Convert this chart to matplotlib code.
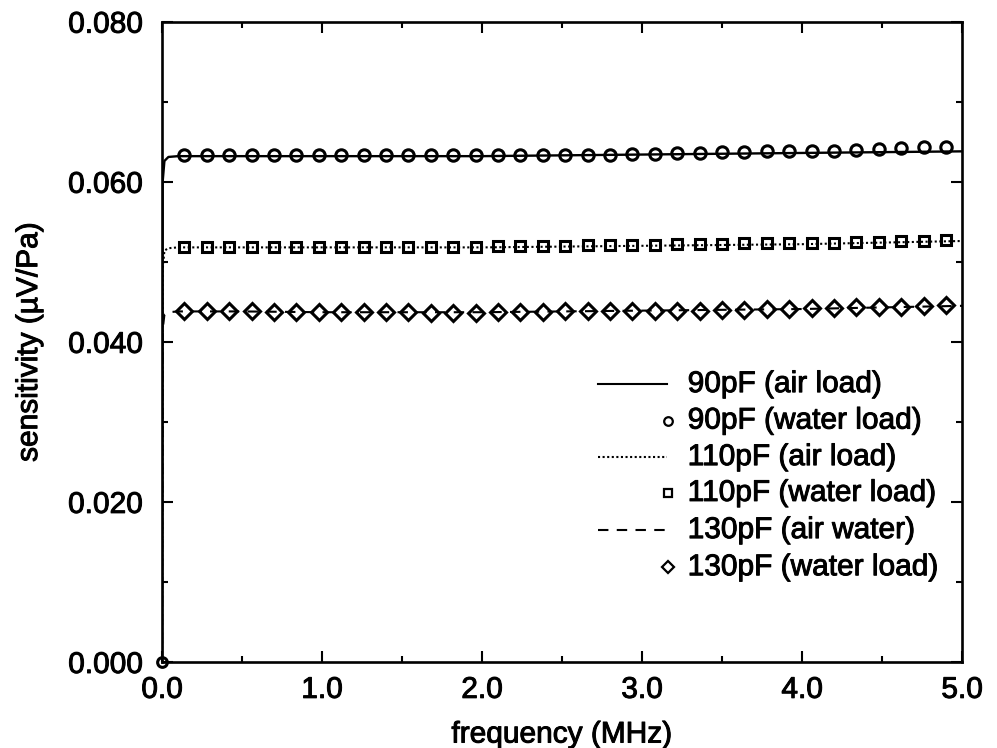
import matplotlib
matplotlib.use("Agg")
import matplotlib.pyplot as plt
import matplotlib.patheffects as pe
from matplotlib.lines import Line2D
from matplotlib.ticker import MultipleLocator, FormatStrFormatter

plt.rcParams["font.family"] = ["Liberation Sans", "DejaVu Sans"]
plt.rcParams["font.size"] = 21.5

# air-load curves (calculated, continuous)
freq_air = [0.0, 0.004, 0.015, 0.04, 0.1, 0.5, 1.0, 1.5, 2.0, 2.5, 3.0, 3.5, 4.0, 4.5, 5.0]
air_90 = [0.0, 0.0600, 0.0626, 0.0631, 0.0632, 0.0632, 0.0632, 0.0632, 0.0632,
          0.0633, 0.0634, 0.0635, 0.0636, 0.0637, 0.0638]
air_110 = [0.0, 0.0490, 0.0514, 0.0517, 0.0518, 0.0518, 0.0518, 0.0518, 0.0518,
           0.0519, 0.0520, 0.0521, 0.0522, 0.0524, 0.0526]
air_130 = [0.0, 0.0415, 0.0434, 0.0437, 0.0438, 0.0438, 0.0437, 0.0437, 0.0437,
           0.0438, 0.0439, 0.0440, 0.0441, 0.0443, 0.0445]

# water-load points
freq_water = [0.14, 0.28, 0.42, 0.56, 0.70, 0.84, 0.98, 1.12, 1.26, 1.40, 1.54, 1.68,
              1.82, 1.96, 2.10, 2.24, 2.38, 2.52, 2.66, 2.80, 2.94, 3.08, 3.22, 3.36,
              3.50, 3.64, 3.78, 3.92, 4.06, 4.20, 4.34, 4.48, 4.62, 4.76, 4.90]
water_90 = [0.0634, 0.0634, 0.0634, 0.0633, 0.0633, 0.0633, 0.0633, 0.0633, 0.0633,
            0.0633, 0.0633, 0.0633, 0.0633, 0.0634, 0.0634, 0.0634, 0.0634, 0.0634,
            0.0634, 0.0634, 0.0635, 0.0635, 0.0636, 0.0636, 0.0637, 0.0637, 0.0638,
            0.0638, 0.0639, 0.0639, 0.0640, 0.0641, 0.0642, 0.0643, 0.0644]
water_110 = [0.0519, 0.0519, 0.0519, 0.0519, 0.0519, 0.0519, 0.0519, 0.0519, 0.0519,
             0.0519, 0.0519, 0.0519, 0.0519, 0.0519, 0.0520, 0.0520, 0.0520, 0.0520,
             0.0521, 0.0521, 0.0521, 0.0521, 0.0522, 0.0522, 0.0522, 0.0523, 0.0523,
             0.0523, 0.0524, 0.0524, 0.0525, 0.0525, 0.0526, 0.0526, 0.0527]
water_130 = [0.0438, 0.0438, 0.0438, 0.0438, 0.0437, 0.0437, 0.0437, 0.0437, 0.0437,
             0.0437, 0.0437, 0.0436, 0.0436, 0.0436, 0.0437, 0.0437, 0.0437, 0.0438,
             0.0438, 0.0438, 0.0438, 0.0439, 0.0439, 0.0439, 0.0440, 0.0440, 0.0441,
             0.0441, 0.0442, 0.0442, 0.0443, 0.0444, 0.0444, 0.0445, 0.0446]
origin_f = [0.0]
origin_s = [0.0]

labels = ["90pF (air load)", "90pF (water load)", "110pF (air load)",
          "110pF (water load)", "130pF (air water)", "130pF (water load)"]

fig = plt.figure(figsize=(9.97, 7.48), dpi=100)
ax = fig.add_axes([0.1625, 0.115, 0.8025, 0.856])

# slightly heavier glyphs, like an old laser-printed figure
heavy = [pe.withStroke(linewidth=0.7, foreground="black")]

dotted = (0, (1.0, 1.2))
dashed = (0, (5, 4))
mk = dict(mfc="none", mec="black", mew=2.2, ls="none")

ax.plot(freq_air, air_90, color="black", lw=1.7, solid_joinstyle="round")
ax.plot(freq_air, air_110, color="black", lw=1.5, ls=dotted)
ax.plot(freq_air, air_130, color="black", lw=1.5, ls=dashed)
ax.plot(freq_water, water_90, marker="o", ms=8.2, **mk)
ax.plot(freq_water, water_110, marker="s", ms=7.8, **mk)
ax.plot(freq_water, water_130, marker="D", ms=7.8, **mk)
ax.plot(origin_f, origin_s, marker="o", ms=7, clip_on=False, zorder=5, **mk)

ax.set_xlim(0, 5.0)
ax.set_ylim(0, 0.080)
ax.xaxis.set_major_locator(MultipleLocator(1.0))
ax.xaxis.set_minor_locator(MultipleLocator(0.5))
ax.yaxis.set_major_locator(MultipleLocator(0.02))
ax.yaxis.set_minor_locator(MultipleLocator(0.01))
ax.xaxis.set_major_formatter(FormatStrFormatter("%.1f"))
ax.yaxis.set_major_formatter(FormatStrFormatter("%.3f"))
ax.tick_params(which="both", direction="in", top=True, right=True, width=1.5)
ax.tick_params(which="major", length=8)
ax.tick_params(which="minor", length=4.5)
ax.tick_params(axis="x", which="major", pad=10)
ax.tick_params(axis="y", which="major", pad=14)
for sp in ax.spines.values():
    sp.set_linewidth(1.9)

ax.set_xlabel("frequency (MHz)", labelpad=12)
ax.set_ylabel("sensitivity (\u00b5V/Pa)", labelpad=18)
for t in ax.get_xticklabels() + ax.get_yticklabels() + [ax.xaxis.label, ax.yaxis.label]:
    t.set_path_effects(heavy)

# legend drawn by hand so the symbols sit right next to the text
rows = [0.434, 0.377, 0.320, 0.264, 0.206, 0.148]
handles = [("line", "-"), ("o", None), ("line", dotted), ("s", None),
           ("line", dashed), ("D", None)]
for (kind, style), y, text in zip(handles, rows, labels):
    if kind == "line":
        ax.add_line(Line2D([0.545, 0.631], [y, y], transform=ax.transAxes,
                           color="black", lw=1.5, ls=style))
    else:
        ax.add_line(Line2D([0.633], [y], transform=ax.transAxes, marker=kind,
                           ms=6.2, mfc="none", mec="black", mew=1.6, ls="none"))
    ax.text(0.657, y, text, transform=ax.transAxes, va="center", ha="left",
            path_effects=heavy)

fig.savefig("out.png", dpi=100)
